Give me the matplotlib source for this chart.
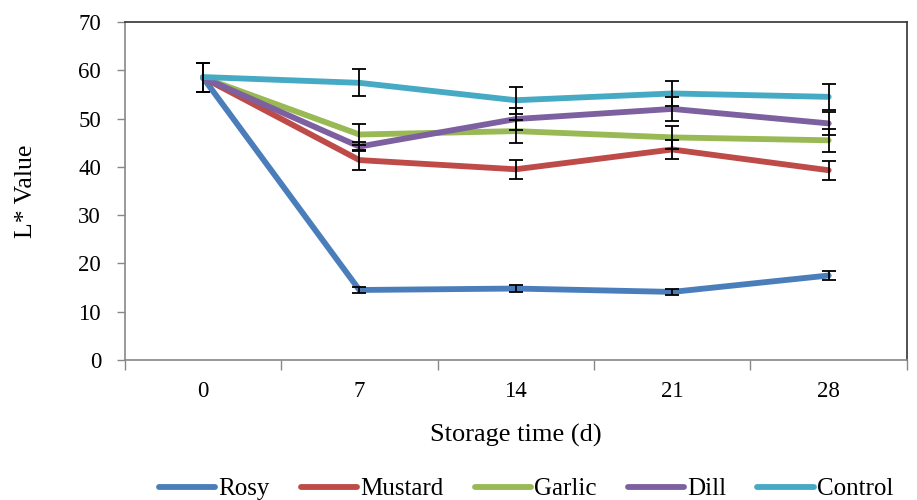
import matplotlib
matplotlib.use("Agg")
import matplotlib.pyplot as plt
import numpy as np

days = ["0", "7", "14", "21", "28"]
series_names = ["Rosy", "Mustard", "Garlic", "Dill", "Control"]
rosy = [58.5, 14.5, 14.8, 14.1, 17.5]
mustard = [58.5, 41.4, 39.5, 43.6, 39.3]
garlic = [58.5, 46.7, 47.4, 46.1, 45.5]
dill = [58.5, 44.2, 49.9, 52.0, 49.0]
control = [58.6, 57.4, 53.8, 55.2, 54.5]
rosy_err = [3.0, 0.7, 0.7, 0.6, 0.9]
mustard_err = [3.0, 2.0, 2.0, 2.0, 2.0]
garlic_err = [3.0, 2.2, 2.4, 2.4, 2.4]
dill_err = [3.0, 1.0, 2.3, 2.5, 2.4]
control_err = [3.0, 2.8, 2.8, 2.6, 2.7]
colors = ["#4A7EBB", "#BE4B48", "#98B954", "#7D60A0", "#46AAC5"]

values = [rosy, mustard, garlic, dill, control]
errors = [rosy_err, mustard_err, garlic_err, dill_err, control_err]

plt.rcParams['font.family'] = ['Liberation Serif', 'DejaVu Serif']

fig = plt.figure(figsize=(9.17, 5.0), dpi=100)
ax = fig.add_axes([0.136, 0.28, 0.853, 0.676])

x = np.arange(len(days))
handles = []
for name, v, c in zip(series_names, values, colors):
    h, = ax.plot(x, v, color=c, lw=4.2, solid_capstyle='round', label=name, zorder=2)
    handles.append(h)
for v, e in zip(values, errors):
    ax.errorbar(x, v, yerr=e, fmt='none', ecolor='black', elinewidth=1.3,
                capsize=4.7, capthick=1.3, zorder=3)

ax.set_xlim(-0.5, len(days) - 0.5)
ax.set_ylim(0, 70)
ax.set_yticks(np.arange(0, 71, 10))
ax.set_xticks(x)
ax.set_xticklabels(days)
ax.set_xticks(np.arange(-0.5, len(days), 1), minor=True)
ax.tick_params(axis='x', which='major', length=0, labelsize=16.5, pad=15)
ax.tick_params(axis='x', which='minor', length=7, color='#888888', direction='out', width=1)
ax.tick_params(axis='y', length=6, color='#888888', direction='out', labelsize=16.5, width=1, pad=11)

for s in ['left', 'bottom']:
    ax.spines[s].set_color('#888888')
    ax.spines[s].set_linewidth(1.2)
for s in ['top', 'right']:
    ax.spines[s].set_color('#333333')
    ax.spines[s].set_linewidth(1.2)

ax.set_xlabel("Storage time (d)", fontsize=19, labelpad=16)
ax.set_ylabel("L* Value", fontsize=18.5, labelpad=30)

fig.legend(handles=handles, labels=series_names, loc='center left', ncol=5,
           bbox_to_anchor=(159 / 917, 0.022), frameon=False, fontsize=18,
           handlelength=2.25, columnspacing=1.25, handletextpad=0.12,
           borderpad=0, borderaxespad=0)

fig.savefig("out.png", dpi=100)
